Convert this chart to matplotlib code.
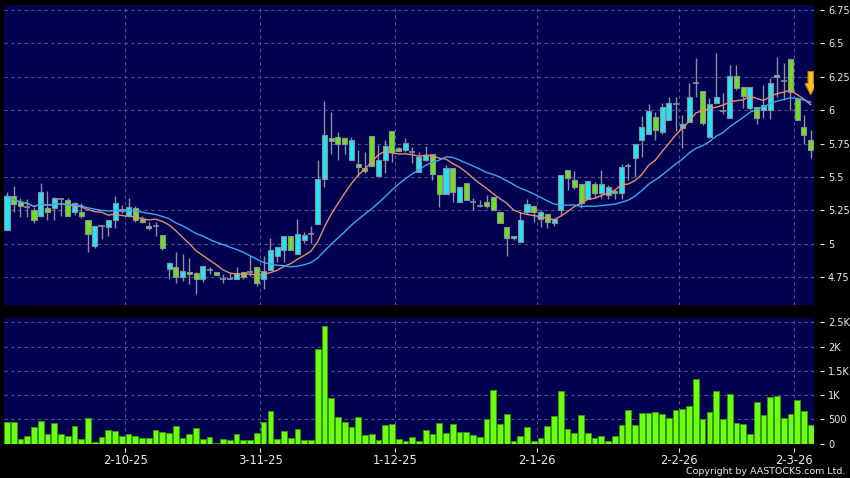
import numpy as np
import pandas as pd
import matplotlib
matplotlib.use('Agg')
import matplotlib.pyplot as plt
from matplotlib.patches import FancyArrow

# -----------------------------
# 日线数据 (读自图表)
# -----------------------------
opens = [5.10, 5.36, 5.31, 5.275, 5.25, 5.21, 5.27, 5.27, 5.335, 5.33,
         5.235, 5.24, 5.18, 4.985, 5.13, 5.125, 5.18, 5.26, 5.205, 5.27,
         5.185, 5.135, 5.13, 5.065, 4.81, 4.825, 4.75, 4.79, 4.78, 4.74,
         4.805, 4.79, 4.74, 4.74, 4.74, 4.79, 4.79, 4.83, 4.74, 4.805,
         4.905, 4.955, 5.055, 4.92, 5.025, 5.07, 5.15, 5.485, 5.79, 5.80,
         5.79, 5.63, 5.595, 5.57, 5.805, 5.505, 5.625, 5.845, 5.715, 5.70,
         5.69, 5.535, 5.625, 5.67, 5.515, 5.375, 5.57, 5.315, 5.455, 5.31,
         5.285, 5.31, 5.35, 5.24, 5.125, 5.04, 5.01, 5.235, 5.28, 5.185,
         5.22, 5.155, 5.25, 5.55, 5.48, 5.445, 5.335, 5.45, 5.38, 5.365,
         5.395, 5.38, 5.58, 5.64, 5.78, 5.82, 5.95, 5.84, 5.925, 6.045,
         5.87, 5.915, 6.20, 6.14, 5.80, 6.05, 5.995, 5.94, 6.255, 6.175,
         6.015, 6.02, 6.00, 6.00, 6.25, 6.215, 6.38, 6.08, 5.875, 5.775]
highs = [5.385, 5.435, 5.345, 5.335, 5.275, 5.455, 5.395, 5.35, 5.335, 5.345,
         5.315, 5.305, 5.18, 5.13, 5.13, 5.18, 5.36, 5.29, 5.34, 5.285,
         5.205, 5.165, 5.165, 5.065, 4.865, 4.94, 4.925, 4.89, 4.79, 4.835,
         4.83, 4.79, 4.775, 4.785, 4.83, 4.79, 4.91, 4.83, 4.905, 5.045,
         4.975, 5.055, 5.055, 5.185, 5.09, 5.135, 5.63, 6.065, 5.99, 5.84,
         5.80, 5.80, 5.70, 5.69, 5.805, 5.74, 5.775, 5.845, 5.725, 5.79,
         5.725, 5.69, 5.73, 5.67, 5.515, 5.59, 5.57, 5.425, 5.455, 5.34,
         5.325, 5.365, 5.35, 5.24, 5.125, 5.06, 5.24, 5.335, 5.28, 5.255,
         5.22, 5.185, 5.515, 5.55, 5.545, 5.445, 5.47, 5.465, 5.55, 5.44,
         5.41, 5.595, 5.605, 5.75, 5.955, 6.045, 5.99, 6.05, 6.095, 6.10,
         5.965, 6.20, 6.39, 6.14, 6.09, 6.425, 6.125, 6.34, 6.34, 6.175,
         6.17, 6.02, 6.19, 6.24, 6.40, 6.35, 6.38, 6.10, 5.965, 5.85]
lows = [5.10, 5.24, 5.20, 5.20, 5.155, 5.20, 5.175, 5.175, 5.205, 5.205,
        5.215, 5.19, 4.935, 4.97, 5.035, 5.06, 5.115, 5.23, 5.205, 5.165,
        5.155, 5.10, 5.06, 4.955, 4.74, 4.705, 4.725, 4.70, 4.625, 4.715,
        4.775, 4.77, 4.71, 4.74, 4.74, 4.74, 4.76, 4.685, 4.66, 4.805,
        4.865, 4.865, 4.955, 4.92, 5.005, 5.005, 5.15, 5.425, 5.675, 5.63,
        5.675, 5.63, 5.505, 5.53, 5.58, 5.505, 5.53, 5.615, 5.695, 5.69,
        5.605, 5.535, 5.62, 5.48, 5.275, 5.375, 5.315, 5.315, 5.325, 5.255,
        5.275, 5.265, 5.255, 5.155, 4.91, 5.03, 5.01, 5.225, 5.165, 5.125,
        5.12, 5.13, 5.205, 5.405, 5.41, 5.265, 5.335, 5.34, 5.34, 5.335,
        5.335, 5.335, 5.48, 5.50, 5.65, 5.82, 5.78, 5.82, 5.925, 5.845,
        5.715, 5.915, 6.10, 5.89, 5.79, 6.05, 5.975, 5.94, 6.15, 6.015,
        6.00, 5.90, 5.94, 5.935, 6.10, 6.075, 6.00, 5.925, 5.75, 5.64]
closes = [5.36, 5.30, 5.28, 5.275, 5.18, 5.39, 5.235, 5.345, 5.335, 5.21,
          5.305, 5.205, 5.075, 5.13, 5.13, 5.175, 5.305, 5.245, 5.275, 5.18,
          5.16, 5.115, 5.13, 4.965, 4.86, 4.75, 4.80, 4.775, 4.74, 4.835,
          4.805, 4.77, 4.74, 4.74, 4.785, 4.75, 4.79, 4.71, 4.80, 4.955,
          4.975, 5.055, 4.955, 5.07, 5.065, 5.07, 5.485, 5.815, 5.77, 5.75,
          5.75, 5.78, 5.575, 5.545, 5.58, 5.63, 5.73, 5.69, 5.695, 5.755,
          5.69, 5.65, 5.665, 5.52, 5.375, 5.57, 5.39, 5.425, 5.325, 5.31,
          5.285, 5.285, 5.255, 5.155, 5.04, 5.06, 5.18, 5.30, 5.24, 5.235,
          5.16, 5.185, 5.515, 5.49, 5.425, 5.305, 5.47, 5.38, 5.445, 5.425,
          5.38, 5.575, 5.58, 5.75, 5.875, 5.995, 5.85, 6.025, 6.055, 6.045,
          5.90, 6.10, 6.20, 5.905, 6.045, 6.10, 5.995, 6.255, 6.165, 6.105,
          6.17, 5.94, 6.04, 6.20, 6.265, 6.215, 6.135, 5.93, 5.815, 5.70]
volumes = [450, 450, 95, 160, 345, 470, 195, 430, 210, 155,
           355, 100, 520, 30, 130, 290, 255, 168, 199, 155,
           124, 124, 282, 247, 227, 357, 124, 199, 316, 96,
           137, 20, 89, 76, 199, 69, 76, 227, 440, 680,
           96, 258, 117, 312, 86, 86, 1948, 2430, 946, 548,
           445, 346, 548, 175, 195, 72, 378, 397, 103, 52,
           137, 55, 285, 200, 428, 219, 415, 248, 233, 175,
           147, 517, 1098, 398, 606, 49, 155, 346, 57, 118,
           356, 566, 1090, 294, 212, 591, 228, 113, 155, 49,
           164, 383, 699, 395, 635, 623, 655, 603, 537, 687,
           707, 773, 1333, 517, 643, 1081, 517, 1033, 436, 415,
           207, 863, 582, 964, 976, 533, 606, 895, 675, 395]

# 每月第一个交易日的序号及标签
tick_idx = [18, 38, 58, 79, 100, 117]
tick_labels = ['2-10-25', '3-11-25', '1-12-25', '2-1-26', '2-2-26', '2-3-26']
price_ticks = [4.75, 5, 5.25, 5.5, 5.75, 6, 6.25, 6.5, 6.75]
vol_ticks = [0, 500, 1000, 1500, 2000, 2500]
vol_labels = ['0', '500', '1K', '1.5K', '2K', '2.5K']

# -----------------------------
# 样式
# -----------------------------
BG = '#000050'
GRID = '#55558e'
UP = '#22e4f2'
DOWN = '#6ee01c'
EDGE = '#8e8e9e'
TXT = '#ececec'
plt.rcParams['font.family'] = ['DejaVu Sans']

o = np.array(opens); h = np.array(highs); l = np.array(lows); c = np.array(closes)
x = np.arange(len(c))
ma10 = pd.Series(c).rolling(10, min_periods=1).mean()
ma20 = pd.Series(c).rolling(20, min_periods=1).mean()

fig = plt.figure(figsize=(8.5, 4.78), dpi=100, facecolor='black')
ax = fig.add_axes([4/850, 1 - 305/478, 810/850, 300/478])
axv = fig.add_axes([4/850, 1 - 443.7/478, 810/850, 125.4/478])

for a in (ax, axv):
    a.set_facecolor(BG)
    for s in a.spines.values():
        s.set_visible(False)
    a.set_xlim(-0.44, 119.49)
    a.set_xticks(np.array(tick_idx) - 0.5)
    a.grid(True, color=GRID, linestyle=(0, (3, 3)), linewidth=0.8)
    a.set_axisbelow(True)
    a.yaxis.tick_right()
    a.spines['right'].set_position(('outward', 4))
    a.tick_params(axis='y', colors=TXT, length=3, width=0.8, pad=3, labelsize=7)

# 主图：K线
ax.set_ylim(4.542, 6.787)
ax.set_yticks(price_ticks)
ax.set_yticklabels(['%g' % p for p in price_ticks])
ax.tick_params(axis='x', length=0, labelbottom=False)

ax.vlines(x, l, h, color=EDGE, linewidth=1, zorder=2)
body_col = np.where(c > o, UP, np.where(c < o, DOWN, EDGE))
flat = c == o
ax.bar(x[~flat], np.abs(c - o)[~flat], bottom=np.minimum(o, c)[~flat], width=0.75,
       color=body_col[~flat], edgecolor=EDGE, linewidth=0.8, zorder=3)
ax.hlines(c[flat], x[flat] - 0.45, x[flat] + 0.45, color=EDGE, linewidth=1.2, zorder=3)

ax.plot(x, ma10, color='#e0906a', linewidth=1, zorder=4)
ax.plot(x, ma20, color='#3ea6ec', linewidth=1, zorder=4)

arrow = FancyArrow(x[-1], 6.29, 0, -0.175, width=0.8, head_width=1.7, head_length=0.085,
                   length_includes_head=True, facecolor='#ffc21a', edgecolor='#c87800',
                   linewidth=0.8, zorder=5)
ax.add_patch(arrow)

# 成交量
axv.set_ylim(0, 2582)
axv.bar(x, volumes, width=0.85, color='#6cff14', edgecolor='#3a9a00', linewidth=0.6, zorder=3)
axv.set_yticks(vol_ticks)
axv.set_yticklabels(vol_labels)
axv.spines['bottom'].set_position(('outward', 3))
axv.set_xticklabels(tick_labels)
axv.tick_params(axis='x', colors=TXT, length=3, width=0.8, pad=1.5, labelsize=8.3)

fig.text(845/850, 1 - 472/478, 'Copyright by AASTOCKS.com Ltd.', color=TXT,
         fontsize=6.8, ha='right', va='center')

fig.savefig('out.png', dpi=100, facecolor='black')
